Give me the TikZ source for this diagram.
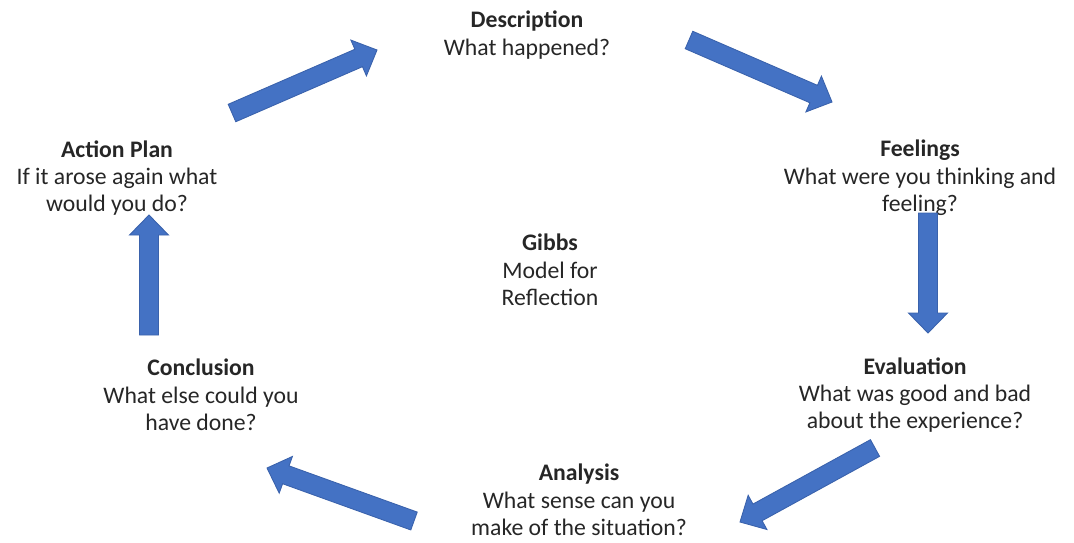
\documentclass[tikz,border=0pt]{standalone}
\usepackage{fontspec}
\setmainfont{Carlito}
\usetikzlibrary{calc}

\definecolor{arrowblue}{HTML}{4472C4}
\definecolor{arrowedge}{HTML}{3A62AC}
\definecolor{textgray}{HTML}{262626}

% block arrow from #1 (tail) to #2 (tip)
\newcommand{\blockarrow}[2]{%
    \filldraw[arrowblue,draw=arrowedge,line width=0.5pt,line join=miter]
        ($(#1)!0.19cm!90:(#2)$)
        -- ($($(#2)!0.4cm!(#1)$)!0.19cm!-90:(#1)$)
        -- ($($(#2)!0.4cm!(#1)$)!0.39cm!-90:(#1)$)
        -- (#2)
        -- ($($(#2)!0.4cm!(#1)$)!0.39cm!90:(#1)$)
        -- ($($(#2)!0.4cm!(#1)$)!0.19cm!90:(#1)$)
        -- ($(#1)!0.19cm!-90:(#2)$)
        -- cycle;
}

\begin{document}
\begin{tikzpicture}[x=0.02cm,y=-0.02cm,
    stage/.style={align=center,inner sep=0pt,text=textgray,
        font=\fontsize{13.5}{15.6}\selectfont}]

    \useasboundingbox (0,0) rectangle (1074,542);

    % Stages of the cycle
    \node[stage] (desc) at (527,35) {\textbf{Description}\\What happened?};
    \node[stage] (feel) at (920,178) {\textbf{Feelings}\\What were you thinking and\\feeling?};
    \node[stage] (eval) at (915,395) {\textbf{Evaluation}\\What was good and bad\\about the experience?};
    \node[stage] (anal) at (579,500) {\textbf{Analysis}\\What sense can you\\make of the situation?};
    \node[stage] (concl) at (201,395) {\textbf{Conclusion}\\What else could you\\have done?};
    \node[stage] (plan) at (117,178) {\textbf{Action Plan}\\If it arose again what\\would you do?};

    % Centre title
    \node[stage] (gibbs) at (550,270) {\textbf{Gibbs}\\Model for\\Reflection};

    % Arrow ends
    \coordinate (desc-out) at (689,40);
    \coordinate (feel-in) at (832,102);
    \coordinate (feel-out) at (928,213);
    \coordinate (eval-in) at (928,333);
    \coordinate (eval-out) at (875,448);
    \coordinate (anal-in) at (740,522);
    \coordinate (anal-out) at (414,521);
    \coordinate (concl-in) at (267,468);
    \coordinate (concl-out) at (149,335);
    \coordinate (plan-in) at (149,215);
    \coordinate (plan-out) at (232,113);
    \coordinate (desc-in) at (377,50);

    % Arrows round the cycle
    \foreach \from/\to in {desc-out/feel-in, feel-out/eval-in,
        eval-out/anal-in, anal-out/concl-in,
        concl-out/plan-in, plan-out/desc-in}
    {
        \blockarrow{\from}{\to}
    }

\end{tikzpicture}
\end{document}
